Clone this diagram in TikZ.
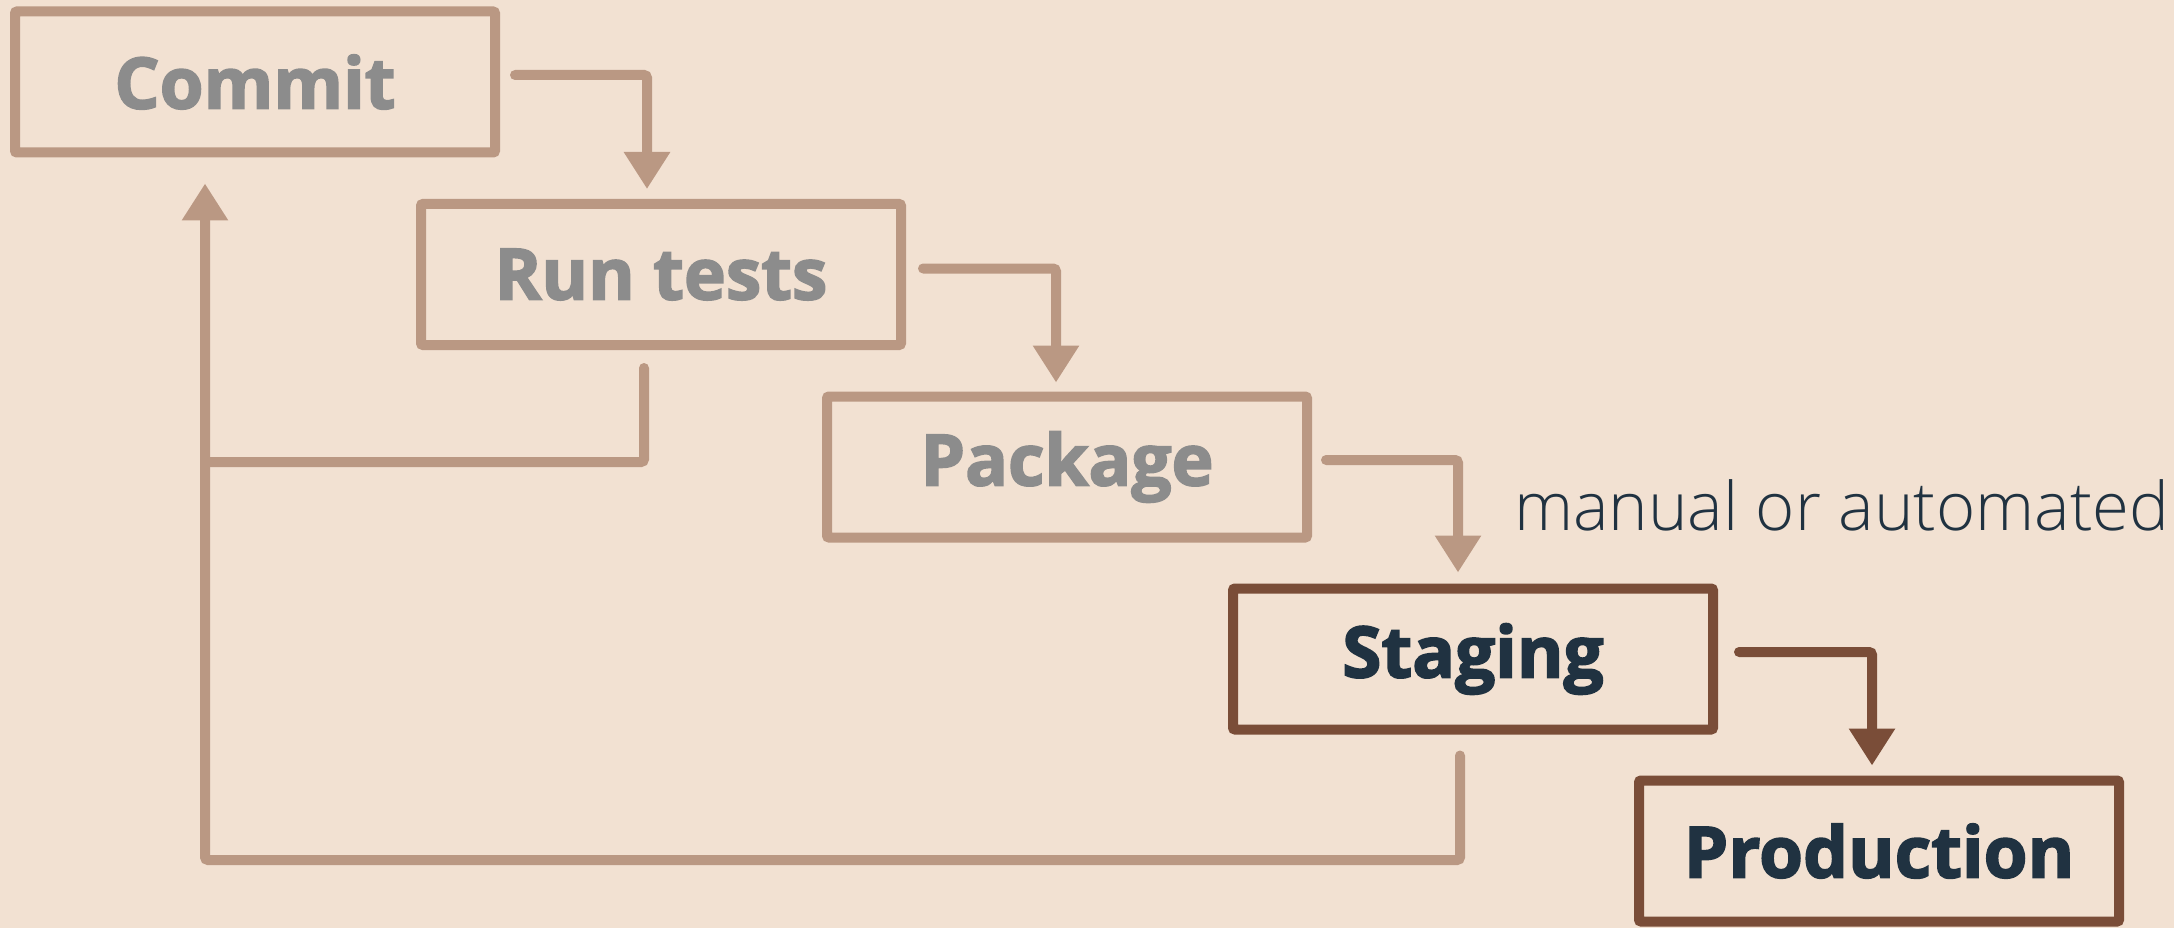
\documentclass[tikz,border=0pt]{standalone}
\usepackage{fontspec}
\setmainfont{Open Sans}
\newfontfamily\thinfont{Open Sans Light}
\newfontfamily\heavyfont{Open Sans}[BoldFeatures={FakeBold=2.4}]
\usetikzlibrary{arrows.meta}

\definecolor{paper}{RGB}{242,225,210}
\definecolor{oldline}{RGB}{186,152,131}
\definecolor{newline}{RGB}{122,77,56}
\definecolor{oldtext}{RGB}{140,140,140}
\definecolor{newtext}{RGB}{32,50,65}

\tikzset{
  stage/.style={draw, line width=10pt, rounded corners=2pt, outer sep=0pt,
    minimum width=480pt, minimum height=141pt, inner sep=0pt,
    font=\fontsize{71}{80}\selectfont\heavyfont\bfseries},
  oldstage/.style={stage, draw=oldline, text=oldtext},
  newstage/.style={stage, draw=newline, text=newtext},
  flow/.style={line width=10pt, line cap=round, rounded corners=3pt,
    -{Triangle[length=37pt,width=44pt]}},
  oldflow/.style={flow, draw=oldline},
  newflow/.style={flow, draw=newline},
  backflow/.style={line width=10pt, line cap=round, rounded corners=3pt, draw=oldline},
}

\begin{document}
\begin{tikzpicture}[x=1pt,y=-1pt]
  \useasboundingbox (0,0) rectangle (2174,928);
  \fill[paper] (0,0) rectangle (2174,928);

  % pipeline stages
  \node[oldstage] (commit)  at (255,82)    {Commit};
  \node[oldstage] (run)     at (661,274.5) {Run tests};
  \node[oldstage] (package) at (1067,467)  {Package};
  \node[newstage] (staging) at (1473,659)  {Staging};
  \node[newstage] (prod)    at (1879,851)  {Production};

  % forward steps
  \draw[oldflow] ([xshift=20pt,yshift=7pt]commit.east) -| ([xshift=-14pt,yshift=15pt]run.north);
  \draw[oldflow] ([xshift=22pt,yshift=6pt]run.east) -| ([xshift=-11pt,yshift=14pt]package.north);
  \draw[oldflow] ([xshift=19pt,yshift=7pt]package.east) -| ([xshift=-15pt,yshift=16pt]staging.north);
  \draw[newflow] ([xshift=26pt,yshift=7pt]staging.east) -| ([xshift=-7pt,yshift=15pt]prod.north);

  % note on the promotion to staging
  \node[anchor=base west, inner sep=0pt, text=newtext,
        font=\fontsize{67}{76}\selectfont\thinfont] (note) at (1514,530) {manual or automated};

  % return paths back to commit
  \coordinate (loop) at (205,860);
  \coordinate (rjoin) at (205,462);
  \draw[backflow] ([xshift=-17pt,yshift=-23pt]run.south) |- (rjoin);
  \draw[backflow, -{Triangle[length=37pt,width=44pt]}]
    ([xshift=-13pt,yshift=-26pt]staging.south) |- (loop)
    -- ([xshift=-50pt,yshift=-31pt]commit.south);
\end{tikzpicture}
\end{document}
